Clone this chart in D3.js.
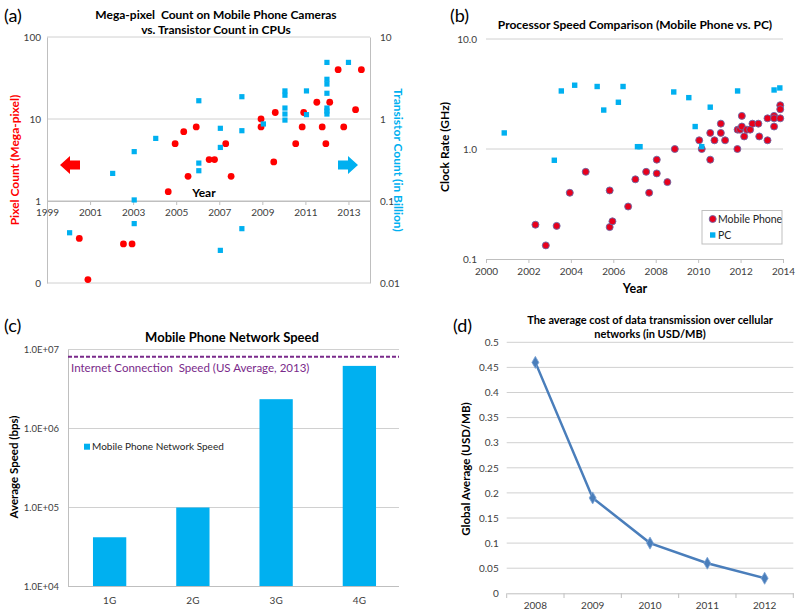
<!DOCTYPE html>
<html><head><meta charset="utf-8">
<script src="https://cdn.jsdelivr.net/npm/d3@7"></script>
<style>
body{margin:0;background:#fff;}
svg{display:block;font-family:Lato,"Open Sans",sans-serif;}
text{white-space:pre;}
</style></head><body>
<svg id="chart" width="800" height="616"></svg>
<script>
// ---------- DATA ----------
// (a) Mega-pixel count vs transistor count
const aYearTicks = [1999, 2001, 2003, 2005, 2007, 2009, 2011, 2013];
const aPixelTicks = [0.1, 1, 10, 100];
const aPixelTickLabels = ["0", "1", "10", "100"];
const aTransTicks = [0.01, 0.1, 1, 10];
const aTransTickLabels = ["0.01", "0.1", "1", "10"];
const aPixelYears = [2000.5, 2000.9, 2002.55, 2002.95, 2004.63, 2004.95, 2005.35, 2005.55, 2005.93, 2006.53, 2006.78, 2007.3, 2007.55, 2008.94, 2008.94, 2009.53, 2009.6, 2010.55, 2010.85, 2010.92, 2011.53, 2011.78, 2011.95, 2012.13, 2012.52, 2012.78, 2013.33, 2013.6];
const aPixelValues = [0.35, 0.11, 0.3, 0.3, 1.3, 5, 7, 2, 8, 3.2, 3.2, 5, 2, 10, 8, 3, 12, 5, 8, 12, 16, 8, 5, 16, 40, 8, 13, 40];
const aTransYears = [2000.05, 2002.05, 2003.05, 2003.05, 2003.05, 2004.05, 2006.05, 2006.05, 2006.05, 2007.05, 2007.05, 2007.05, 2008.05, 2008.05, 2008.05, 2009.05, 2010.05, 2010.05, 2010.05, 2010.05, 2010.05, 2011.05, 2011.05, 2012.0, 2012.0, 2012.0, 2012.0, 2012.0, 2012.0, 2012.0, 2013.0];
const aTransValues = [0.041, 0.217, 0.4, 0.103, 0.053, 0.58, 1.67, 0.29, 0.234, 0.77, 0.45, 0.025, 1.87, 0.72, 0.046, 0.87, 2.2, 1.95, 1.36, 1.15, 0.97, 2.2, 1.13, 4.9, 3.05, 2.67, 2.06, 1.36, 1.25, 1.15, 4.9];

// (b) Processor speed
const bYearTicks = [2000, 2002, 2004, 2006, 2008, 2010, 2012, 2014];
const bClockTicks = [0.1, 1, 10];
const bMobileYears = [2002.33, 2002.82, 2003.33, 2003.95, 2004.7, 2005.83, 2005.83, 2005.96, 2006.7, 2007.04, 2007.55, 2007.69, 2008.05, 2008.05, 2008.55, 2008.9, 2010.05, 2010.17, 2010.57, 2010.57, 2010.77, 2011.07, 2011.07, 2011.27, 2011.85, 2011.86, 2011.97, 2012.06, 2012.06, 2012.17, 2012.3, 2012.45, 2012.56, 2012.84, 2012.88, 2013.27, 2013.27, 2013.58, 2013.58, 2013.58, 2013.87, 2013.87, 2013.87];
const bMobileValues = [0.205, 0.133, 0.2, 0.4, 0.62, 0.42, 0.195, 0.22, 0.3, 0.53, 0.62, 0.4, 0.8, 0.6, 0.5, 1.0, 1.2, 1.0, 1.4, 0.8, 1.2, 1.7, 1.4, 1.2, 1.0, 1.5, 1.5, 2.0, 1.6, 1.3, 1.5, 1.5, 1.7, 1.7, 1.3, 1.9, 1.2, 2.0, 1.9, 1.6, 1.9, 2.5, 2.3];
const bPCYears = [2000.86, 2003.22, 2003.55, 2004.18, 2005.24, 2005.55, 2006.24, 2006.46, 2007.14, 2007.26, 2008.85, 2009.56, 2009.86, 2010.17, 2010.57, 2011.86, 2013.58, 2013.85];
const bPCValues = [1.4, 0.79, 3.37, 3.8, 3.7, 2.26, 2.66, 3.7, 1.05, 1.05, 3.3, 2.93, 1.6, 1.05, 2.4, 3.37, 3.44, 3.59];

// (c) Network speed
const cGenerations = ["1G", "2G", "3G", "4G"];
const cSpeeds = [42000, 100000, 2350000, 6200000];
const cSpeedTicks = [1e4, 1e5, 1e6, 1e7];
const cInternetSpeed = 8100000;

// (d) Cost of data
const dYears = ["2008", "2009", "2010", "2011", "2012"];
const dCosts = [0.46, 0.19, 0.10, 0.06, 0.03];
const dCostTicks = [0, 0.05, 0.1, 0.15, 0.2, 0.25, 0.3, 0.35, 0.4, 0.45, 0.5];

// ---------- DRAW ----------
const svg = d3.select("#chart");
const GRID = "#d0d0d0", AXIS = "#bfbfbf", TICKTXT = "#404040";
const RED = "#ff0000", CYAN = "#00b0f0";

function styleAxis(g, size) {
  g.selectAll("path.domain").attr("stroke", AXIS);
  g.selectAll(".tick line").attr("stroke", AXIS);
  g.selectAll(".tick text").attr("fill", TICKTXT).style("font-size", size + "px").style("font-family", "Lato, sans-serif");
}
function text(x, y, str, opts) {
  const t = svg.append("text").attr("x", x).attr("y", y).text(str)
    .attr("text-anchor", opts.anchor || "middle")
    .attr("fill", opts.fill || "#000")
    .style("font-size", (opts.size || 12) + "px")
    .style("font-weight", opts.bold ? "bold" : "normal");
  if (opts.rotate) t.attr("transform", `rotate(${opts.rotate},${x},${y})`);
  if (opts.dy) t.attr("dy", opts.dy);
  return t;
}

// ===== Panel (a) =====
{
  const x = d3.scaleLinear().domain([1999, 2014]).range([47, 370]);
  const yL = d3.scaleLog().domain([0.1, 100]).range([283, 37]);
  const yR = d3.scaleLog().domain([0.01, 10]).range([283, 37]);
  const g = svg.append("g");
  g.selectAll("line.grid").data(aPixelTicks).join("line")
    .attr("x1", 47).attr("x2", 370).attr("y1", d => yL(d)).attr("y2", d => yL(d))
    .attr("stroke", d => d === 1 ? AXIS : GRID);
  const gl = g.append("g").attr("transform", "translate(47,0)")
    .call(d3.axisLeft(yL).tickValues(aPixelTicks).tickFormat((d, i) => aPixelTickLabels[i]).tickSize(0).tickPadding(6));
  styleAxis(gl, 10);
  const gr = g.append("g").attr("transform", "translate(370,0)")
    .call(d3.axisRight(yR).tickValues(aTransTicks).tickFormat((d, i) => aTransTickLabels[i]).tickSize(0).tickPadding(10));
  styleAxis(gr, 10);
  const gx = g.append("g").attr("transform", `translate(0,${yL(1)})`)
    .call(d3.axisBottom(x).tickValues(aYearTicks).tickFormat(d3.format("d")).tickSizeInner(4).tickSizeOuter(0).tickPadding(4));
  styleAxis(gx, 10);
  g.selectAll("circle.px").data(aPixelYears).join("circle")
    .attr("cx", d => x(d)).attr("cy", (d, i) => yL(aPixelValues[i])).attr("r", 3.4).attr("fill", RED);
  g.selectAll("rect.tr").data(aTransYears).join("rect")
    .attr("x", d => x(d) - 2.6).attr("y", (d, i) => yR(aTransValues[i]) - 2.6)
    .attr("width", 5.2).attr("height", 5.2).attr("fill", CYAN);
  g.append("path").attr("d", "M60,165 L70,156 L70,160.5 L80,160.5 L80,169.5 L70,169.5 L70,174 Z").attr("fill", RED);
  g.append("path").attr("d", "M358,165 L348,156 L348,160.5 L338,160.5 L338,169.5 L348,169.5 L348,174 Z").attr("fill", CYAN);
  text(204, 197, "Year", {bold: true, size: 12});
  text(216, 19, "Mega-pixel  Count on Mobile Phone Cameras", {bold: true, size: 12});
  text(216, 34, "vs. Transistor Count in CPUs", {bold: true, size: 12});
  text(19, 160, "Pixel Count (Mega-pixel)", {bold: true, size: 12, fill: RED, rotate: -90});
  text(394, 160, "Transistor Count (in Billion)", {bold: true, size: 12, fill: CYAN, rotate: 90});
  text(4, 22, "(a)", {anchor: "start", size: 18});
}

// ===== Panel (b) =====
{
  const x = d3.scaleLinear().domain([2000, 2014]).range([486, 783]);
  const y = d3.scaleLog().domain([0.1, 10]).range([259, 39]);
  const g = svg.append("g");
  g.selectAll("line.grid").data(bClockTicks.slice(1)).join("line")
    .attr("x1", 486).attr("x2", 783).attr("y1", d => y(d)).attr("y2", d => y(d)).attr("stroke", GRID);
  const gl = g.append("g").attr("transform", "translate(486,0)")
    .call(d3.axisLeft(y).tickValues(bClockTicks).tickFormat(d3.format(".1f")).tickSize(0).tickPadding(9));
  gl.select("path.domain").remove();
  styleAxis(gl, 10);
  const gx = g.append("g").attr("transform", "translate(0,259)")
    .call(d3.axisBottom(x).tickValues(bYearTicks).tickFormat(d3.format("d")).tickSizeInner(4).tickSizeOuter(0).tickPadding(5));
  styleAxis(gx, 10);
  g.selectAll("circle.mb").data(bMobileYears).join("circle")
    .attr("cx", d => x(d)).attr("cy", (d, i) => y(bMobileValues[i])).attr("r", 3.5)
    .attr("fill", "#e8001c").attr("stroke", "#6a6aa8").attr("stroke-width", 0.9);
  g.selectAll("rect.pc").data(bPCYears).join("rect")
    .attr("x", d => x(d) - 2.7).attr("y", (d, i) => y(bPCValues[i]) - 2.7)
    .attr("width", 5.4).attr("height", 5.4).attr("fill", CYAN);
  g.append("rect").attr("x", 702).attr("y", 210.5).attr("width", 80).attr("height", 33.5)
    .attr("fill", "#fff").attr("stroke", AXIS);
  g.append("circle").attr("cx", 712.7).attr("cy", 219).attr("r", 3.5).attr("fill", "#e8001c").attr("stroke", "#6a6aa8").attr("stroke-width", 0.9);
  g.append("rect").attr("x", 710).attr("y", 232.3).attr("width", 5.4).attr("height", 5.4).attr("fill", CYAN);
  text(718, 222.5, "Mobile Phone", {anchor: "start", size: 10.5, fill: "#262626"});
  text(718, 238.5, "PC", {anchor: "start", size: 10.5, fill: "#262626"});
  text(635, 293, "Year", {bold: true, size: 12.5});
  text(635, 29, "Processor Speed Comparison (Mobile Phone vs. PC)", {bold: true, size: 12});
  text(449, 147, "Clock Rate (GHz)", {bold: true, size: 12, rotate: -90});
  text(450, 22, "(b)", {anchor: "start", size: 18});
}

// ===== Panel (c) =====
{
  const x = d3.scaleBand().domain(cGenerations).range([68, 401]).paddingInner(0.6).paddingOuter(0.3);
  const y = d3.scaleLog().domain([1e4, 1e7]).range([586.5, 349.5]);
  const g = svg.append("g");
  g.selectAll("line.grid").data(cSpeedTicks.slice(1)).join("line")
    .attr("x1", 68).attr("x2", 399).attr("y1", d => y(d)).attr("y2", d => y(d)).attr("stroke", GRID);
  g.selectAll("rect.bar").data(cGenerations).join("rect")
    .attr("x", d => x(d)).attr("width", x.bandwidth())
    .attr("y", (d, i) => y(cSpeeds[i])).attr("height", (d, i) => y(1e4) - y(cSpeeds[i]))
    .attr("fill", CYAN);
  const gl = g.append("g").attr("transform", "translate(68,0)")
    .call(d3.axisLeft(y).tickValues(cSpeedTicks).tickFormat(d => "1.0E+0" + Math.round(Math.log10(d))).tickSize(0).tickPadding(9));
  styleAxis(gl, 9.5);
  const gx = g.append("g").attr("transform", "translate(0,586.5)")
    .call(d3.axisBottom(x).tickSize(0).tickPadding(10));
  styleAxis(gx, 10);
  gx.select("path.domain").attr("d", "M68,0H399");
  g.append("line").attr("x1", 68).attr("x2", 399).attr("y1", y(cInternetSpeed)).attr("y2", y(cInternetSpeed))
    .attr("stroke", "#7a2a8a").attr("stroke-width", 2).attr("stroke-dasharray", "4,2");
  text(71, 372, "Internet Connection  Speed (US Average, 2013)", {anchor: "start", size: 11.5, fill: "#7a2a8a"});
  g.append("rect").attr("x", 84).attr("y", 443.7).attr("width", 6).attr("height", 6).attr("fill", CYAN);
  text(92, 450, "Mobile Phone Network Speed", {anchor: "start", size: 10, fill: "#262626"});
  text(232, 342, "Mobile Phone Network Speed", {bold: true, size: 13});
  text(18, 467, "Average Speed (bps)", {bold: true, size: 11.5, rotate: -90});
  text(4, 332, "(c)", {anchor: "start", size: 18});
}

// ===== Panel (d) =====
{
  const x = d3.scaleBand().domain(dYears).range([506.7, 793.3]).padding(0);
  const y = d3.scaleLinear().domain([0, 0.5]).range([593.3, 342.3]);
  const g = svg.append("g");
  g.selectAll("line.grid").data(dCostTicks.slice(1)).join("line")
    .attr("x1", 506.7).attr("x2", 793.3).attr("y1", d => y(d)).attr("y2", d => y(d)).attr("stroke", GRID);
  const gl = g.append("g").attr("transform", "translate(506.7,0)")
    .call(d3.axisLeft(y).tickValues(dCostTicks).tickFormat(d => String(+d.toFixed(2))).tickSize(0).tickPadding(8));
  gl.select("path.domain").remove();
  styleAxis(gl, 10);
  const gx = g.append("g").attr("transform", "translate(0,593.3)")
    .call(d3.axisBottom(x).tickSize(0).tickPadding(9));
  styleAxis(gx, 10);
  const bounds = dYears.map(d => x(d)).concat([x(dYears[dYears.length - 1]) + x.bandwidth()]);
  g.selectAll("line.bt").data(bounds).join("line")
    .attr("x1", d => d).attr("x2", d => d).attr("y1", 593.3).attr("y2", 598).attr("stroke", AXIS);
  const cx = d => x(d) + x.bandwidth() / 2;
  const line = d3.line().x(d => cx(d)).y((d, i) => y(dCosts[i]));
  g.append("path").datum(dYears).attr("d", line).attr("fill", "none")
    .attr("stroke", "#4a7ebb").attr("stroke-width", 2.5);
  g.selectAll("path.mk").data(dYears).join("path")
    .attr("transform", (d, i) => `translate(${cx(d)},${y(dCosts[i])})`)
    .attr("d", d3.symbol().type(d3.symbolDiamond).size(42))
    .attr("fill", "#4a7ebb").attr("stroke", "#7fa6d6").attr("stroke-width", 0.8);
  text(650, 324, "The average cost of data transmission over cellular", {bold: true, size: 11});
  text(650, 338, "networks (in USD/MB)", {bold: true, size: 11});
  text(470, 469, "Global Average (USD/MB)", {bold: true, size: 11.5, rotate: -90});
  text(453, 332, "(d)", {anchor: "start", size: 18});
}
</script>
</body></html>
